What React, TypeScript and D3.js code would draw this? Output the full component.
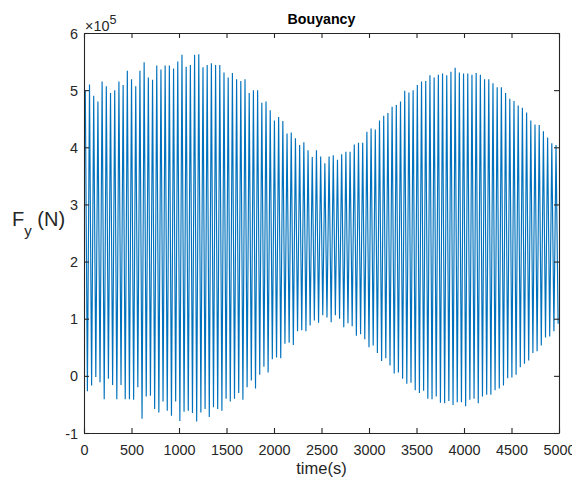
import React, { useEffect, useRef } from "react";
import * as d3 from "d3";

// Oscillation timing (seconds): time of first crest and crest-to-crest period
const firstPeakTime = 13.7;
const period = 44.24;

// Crest values (units of 1e5 N), read cycle by cycle
const peaks: number[] = [
  5.0, 5.1, 4.9, 4.8, 5.15, 5.07, 4.95, 5.0, 5.15, 5.09,
  5.34, 5.19, 5.07, 5.34, 5.49, 5.22, 5.18, 5.43, 5.36, 5.43,
  5.43, 5.38, 5.5, 5.62, 5.41, 5.44, 5.62, 5.63, 5.4, 5.44,
  5.47, 5.44, 5.44, 5.31, 5.22, 5.3, 5.19, 5.16, 5.19, 4.95,
  5.0, 5.0, 4.78, 4.8, 4.65, 4.47, 4.53, 4.46, 4.24, 4.26,
  4.16, 4.04, 4.09, 3.95, 3.83, 3.95, 3.84, 3.72, 3.84, 3.86,
  3.78, 3.88, 3.92, 3.92, 4.05, 4.08, 4.08, 4.27, 4.33, 4.31,
  4.47, 4.55, 4.6, 4.71, 4.74, 4.8, 4.99, 4.96, 5.0, 5.09,
  5.15, 5.16, 5.26, 5.22, 5.27, 5.29, 5.26, 5.32, 5.39, 5.31,
  5.29, 5.29, 5.27, 5.3, 5.27, 5.19, 5.19, 5.12, 5.05, 5.05,
  4.95, 4.85, 4.81, 4.73, 4.69, 4.61, 4.47, 4.4, 4.39, 4.28,
  4.17, 4.07, 4.04,
];

// Trough values (units of 1e5 N)
const troughs: number[] = [
  -0.27, -0.17, -0.02, -0.11, -0.41, -0.05, -0.16, -0.41, -0.16, -0.41,
  -0.41, -0.42, -0.2, -0.75, -0.36, -0.35, -0.58, -0.64, -0.45, -0.61,
  -0.7, -0.45, -0.79, -0.63, -0.61, -0.65, -0.8, -0.64, -0.58, -0.72,
  -0.55, -0.58, -0.61, -0.4, -0.45, -0.4, -0.3, -0.42, -0.2, -0.08,
  -0.22, 0.02, 0.16, 0.06, 0.29, 0.32, 0.31, 0.56, 0.58, 0.54,
  0.78, 0.8, 0.78, 0.88, 0.97, 0.93, 1.06, 1.02, 0.94, 1.06,
  1.0, 0.85, 0.92, 0.87, 0.7, 0.73, 0.64, 0.5, 0.53, 0.4,
  0.26, 0.31, 0.18, 0.04, 0.06, -0.05, -0.14, -0.12, -0.25, -0.3,
  -0.26, -0.4, -0.41, -0.36, -0.47, -0.48, -0.44, -0.51, -0.46, -0.46,
  -0.53, -0.42, -0.4, -0.48, -0.36, -0.33, -0.33, -0.25, -0.22, -0.17,
  -0.04, -0.03, 0.02, 0.15, 0.21, 0.27, 0.4, 0.43, 0.53, 0.67,
  0.69, 0.78, 0.91,
];

const xTicks = [0, 500, 1000, 1500, 2000, 2500, 3000, 3500, 4000, 4500, 5000];
const yTicks = [-1, 0, 1, 2, 3, 4, 5, 6];
const xDomain = [0, 5000];
const yDomain = [-1, 6];

const W = 572;
const H = 479;
const M = { left: 84, top: 33, right: 559, bottom: 433 };
const FONT = "'Liberation Sans', Arial, Helvetica, sans-serif";
const AX = "#262626";
const LINE = "#0072BD";

export default function App() {
  const gRef = useRef<SVGGElement>(null);

  const x = d3.scaleLinear().domain(xDomain).range([M.left, M.right]);
  const y = d3.scaleLinear().domain(yDomain).range([M.bottom, M.top]);

  const pts: [number, number][] = [];
  for (let i = 0; i < peaks.length; i++) {
    pts.push([firstPeakTime + i * period, peaks[i]]);
    if (i < troughs.length) pts.push([firstPeakTime + i * period + period / 2, troughs[i]]);
  }
  const lineGen = d3
    .line<[number, number]>()
    .x((d) => x(d[0]))
    .y((d) => y(d[1]));
  const path = lineGen(pts) || "";

  useEffect(() => {
    const g = d3.select(gRef.current);
    g.selectAll("*").remove();
    const fmt = (d: d3.NumberValue) => String(d);

    const bottom = g
      .append("g")
      .attr("transform", `translate(0,${M.bottom})`)
      .call(d3.axisBottom(x).tickValues(xTicks).tickFormat(fmt).tickSizeInner(-5).tickSizeOuter(0).tickPadding(12));
    const top = g
      .append("g")
      .attr("transform", `translate(0,${M.top})`)
      .call(d3.axisTop(x).tickValues(xTicks).tickFormat(() => "").tickSizeInner(-5).tickSizeOuter(0));
    const left = g
      .append("g")
      .attr("transform", `translate(${M.left},0)`)
      .call(d3.axisLeft(y).tickValues(yTicks).tickFormat(fmt).tickSizeInner(-5).tickSizeOuter(0).tickPadding(6));
    const right = g
      .append("g")
      .attr("transform", `translate(${M.right},0)`)
      .call(d3.axisRight(y).tickValues(yTicks).tickFormat(() => "").tickSizeInner(-5).tickSizeOuter(0));

    [bottom, top, left, right].forEach((a) => {
      a.select(".domain").attr("stroke", AX).attr("stroke-width", 1.1);
      a.selectAll(".tick line").attr("stroke", AX).attr("stroke-width", 1.1);
      a.selectAll(".tick text")
        .attr("fill", AX)
        .style("font-family", FONT)
        .style("font-size", "14.4px");
    });
    left.selectAll(".tick text").attr("dy", "0.35em");
  }, []);

  return (
    <svg
      width={W}
      height={H}
      style={{ position: "absolute", left: 0, top: 0, background: "#fff" }}
      fontFamily={FONT}
    >
      <rect x={0} y={0} width={W} height={H} fill="#fff" />
      <defs>
        <clipPath id="plotClip">
          <rect x={M.left} y={M.top} width={M.right - M.left} height={M.bottom - M.top} />
        </clipPath>
      </defs>
      <g clipPath="url(#plotClip)">
        <path d={path} fill="none" stroke={LINE} strokeWidth={1.15} />
      </g>
      <g ref={gRef} />
      <text x={(M.left + M.right) / 2} y={24} textAnchor="middle" fontWeight="bold" fontSize={14.2} fill="#000">
        Bouyancy
      </text>
      <text x={(M.left + M.right) / 2} y={474} textAnchor="middle" fontSize={16.5} fill={AX}>
        time(s)
      </text>
      <text x={12} y={226} fontSize={20} fill={AX}>
        F
        <tspan fontSize={15} dy={10}>y</tspan>
        <tspan dy={-10}> (N)</tspan>
      </text>
      <text x={85} y={31} fontSize={14.4} fill={AX}>
        ×10
        <tspan fontSize={12.6} dy={-7}>5</tspan>
      </text>
    </svg>
  );
}
